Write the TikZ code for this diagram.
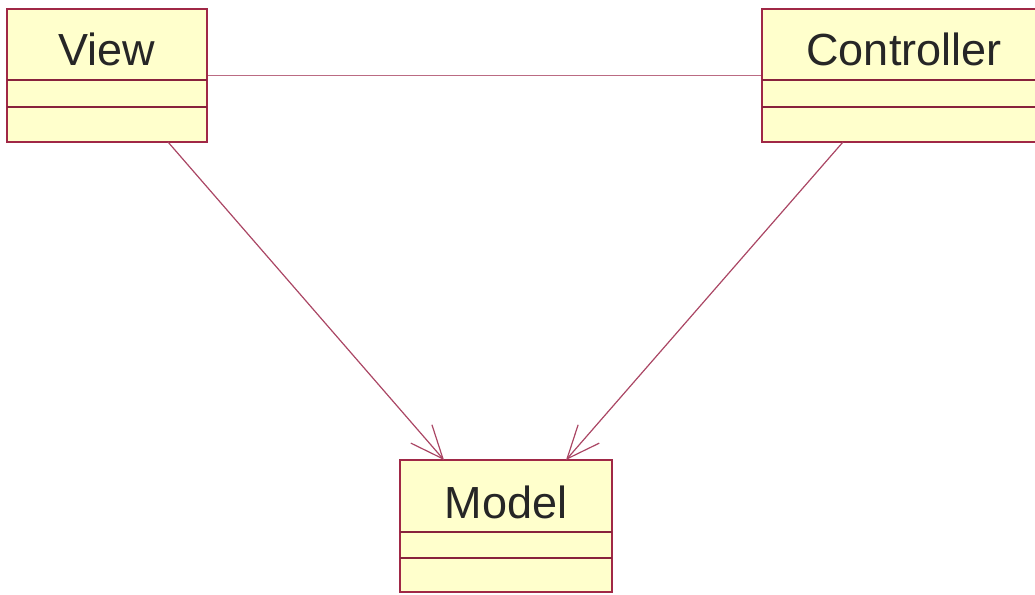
\documentclass[tikz,border=0pt]{standalone}
\usepackage{fontspec}
\setmainfont{Liberation Sans}
\usetikzlibrary{arrows.meta}
\definecolor{umlborder}{RGB}{160,40,70}
\definecolor{umlline}{RGB}{170,70,100}
\definecolor{umlfill}{RGB}{255,255,204}
\tikzset{
  classbox/.style={draw=umlborder, fill=umlfill, line width=1.5pt, rectangle, inner sep=0pt},
  divider/.style={draw=umlborder!85!black, line width=1.3pt},
  classname/.style={font=\fontsize{45}{54}\selectfont, anchor=base, inner sep=0pt, text=black!85},
  assoc/.style={draw=umlline!80, line width=1.5pt},
  depend/.style={draw=umlline, line width=1.2pt, -{Straight Barb[length=33pt,width=28pt,line width=1.2pt]}}
}
\begin{document}
\begin{tikzpicture}[x=1pt,y=-1pt]
\useasboundingbox (0,0) rectangle (1035,594);
% View
\node[classbox, minimum width=200pt, minimum height=133pt] (view) at (107,75.5) {};
\node[classname] (viewname) at (107,65) {View};
\coordinate (vd1l) at (7,80); \coordinate (vd1r) at (207,80);
\coordinate (vd2l) at (7,107); \coordinate (vd2r) at (207,107);
\draw[divider] (vd1l) -- (vd1r);
\draw[divider] (vd2l) -- (vd2r);
% Controller
\node[classbox, minimum width=284pt, minimum height=133pt] (ctrl) at (904,75.5) {};
\node[classname] (ctrlname) at (904,65) {Controller};
\coordinate (cd1l) at (762,80); \coordinate (cd1r) at (1046,80);
\coordinate (cd2l) at (762,107); \coordinate (cd2r) at (1046,107);
\draw[divider] (cd1l) -- (cd1r);
\draw[divider] (cd2l) -- (cd2r);
% Model
\node[classbox, minimum width=212pt, minimum height=132pt] (model) at (506,526) {};
\node[classname] (modelname) at (506,518) {Model};
\coordinate (md1l) at (400,532); \coordinate (md1r) at (612,532);
\coordinate (md2l) at (400,558); \coordinate (md2r) at (612,558);
\draw[divider] (md1l) -- (md1r);
\draw[divider] (md2l) -- (md2r);
% connectors
\draw[assoc] (view.east) -- (ctrl.west);
\coordinate (vs) at (168,142);
\coordinate (cs) at (843,142);
\coordinate (mt1) at (444,460);
\coordinate (mt2) at (566,460);
\draw[depend] (vs) -- (mt1);
\draw[depend] (cs) -- (mt2);
\end{tikzpicture}
\end{document}
